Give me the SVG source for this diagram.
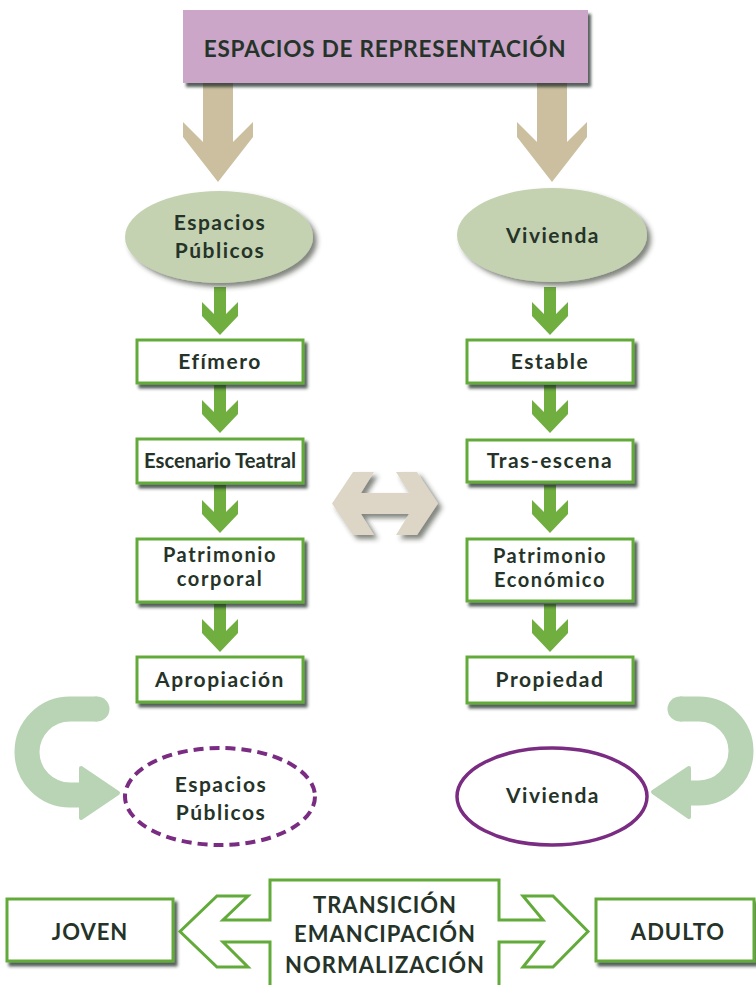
<svg xmlns="http://www.w3.org/2000/svg" width="756" height="985" viewBox="0 0 756 985">
<style>
.t{font-family:Lato,"Liberation Sans",sans-serif;font-weight:700;fill:#253329;text-anchor:middle}
.lb{font-size:21px;letter-spacing:1.5px}
.lb2{font-size:20px;letter-spacing:1.6px}
.cap{font-size:22px;letter-spacing:1px}
.box{fill:#fff;stroke:#62ab3a;stroke-width:3}
.garrow{fill:#6fae3f}
.tarrow{fill:#cbbf9f}
.oval{fill:#c4d2b1}
.curve{fill:none;stroke:#b8d4b4;stroke-width:25}
.chead{fill:#b8d4b4;stroke:#b8d4b4;stroke-width:4;stroke-linejoin:round}
</style>
<defs>
<filter id="sh" x="-10%" y="-10%" width="130%" height="140%">
<feDropShadow dx="3" dy="4" stdDeviation="1.8" flood-color="#1e2a22" flood-opacity="0.75"/>
</filter>
<filter id="sh2" x="-10%" y="-10%" width="130%" height="140%">
<feDropShadow dx="4" dy="4" stdDeviation="2.5" flood-color="#2a3028" flood-opacity="0.6"/>
</filter>
<path id="ga" d="M -6 0 H 6 V 27 L 18 15 V 29 L 0 48 L -18 29 V 15 L -6 27 Z"/>
<path id="ta" d="M -15 80 H 15 V 142 L 35 122 V 137 L 0 182 L -35 137 V 122 L -15 142 Z"/>
</defs>
<rect width="756" height="985" fill="#fff"/>

<g id="connectors">
<use href="#ta" class="tarrow" x="218" y="0"/>
<use href="#ta" class="tarrow" x="552" y="0"/>
<use href="#ga" class="garrow" x="220" y="287"/>
<use href="#ga" class="garrow" x="220" y="385"/>
<use href="#ga" class="garrow" x="220" y="485"/>
<use href="#ga" class="garrow" x="220" y="604"/>
<use href="#ga" class="garrow" x="550" y="287"/>
<use href="#ga" class="garrow" x="550" y="385"/>
<use href="#ga" class="garrow" x="550" y="485"/>
<use href="#ga" class="garrow" x="550" y="604"/>
<polygon id="double-arrow" points="332,503.5 353,472 374,472 361,493 409,493 396,472 417,472 438,503.5 417,535 396,535 409,514 361,514 374,535 353,535" fill="#ddd6c7" filter="url(#sh2)"/>
<g id="curve-left">
<path class="curve" d="M 97 709 H 70 A 43 43 0 0 0 70 795 H 84"/>
<circle cx="97" cy="709" r="12.5" fill="#b8d4b4"/>
<polygon class="chead" points="81,768 118,793 81,818"/>
</g>
<g id="curve-right">
<path class="curve" d="M 680 709 H 699 A 42 42 0 0 1 699 793 H 686"/>
<circle cx="680" cy="709" r="12.5" fill="#b8d4b4"/>
<polygon class="chead" points="689,768 653,792 689,817"/>
</g>
</g>

<g id="title">
<rect x="183" y="10" width="405" height="73" fill="#cba6c9" filter="url(#sh)"/>
<text class="t" x="385" y="57" font-size="22.5" letter-spacing="0.8">ESPACIOS DE REPRESENTACIÓN</text>
</g>

<g id="espacios-publicos">
<ellipse class="oval" cx="219" cy="237" rx="94" ry="46" filter="url(#sh2)"/>
<text class="t lb" x="220" y="230">Espacios</text>
<text class="t lb" x="220" y="258">Públicos</text>
</g>
<g id="vivienda">
<ellipse class="oval" cx="552" cy="235" rx="95" ry="47" filter="url(#sh2)"/>
<text class="t lb" x="553" y="243">Vivienda</text>
</g>

<g id="efimero">
<rect class="box" x="137" y="340" width="166" height="43" filter="url(#sh)"/>
<text class="t lb" x="220" y="369">Efímero</text>
</g>
<g id="escenario-teatral">
<rect class="box" x="137" y="439" width="166" height="44" filter="url(#sh)"/>
<text class="t" x="220" y="468" font-size="21" textLength="152" lengthAdjust="spacingAndGlyphs">Escenario Teatral</text>
</g>
<g id="patrimonio-corporal">
<rect class="box" x="137" y="539" width="166" height="63" filter="url(#sh)"/>
<text class="t lb2" x="220" y="562">Patrimonio</text>
<text class="t lb2" x="220" y="586">corporal</text>
</g>
<g id="apropiacion">
<rect class="box" x="137" y="657" width="166" height="45" filter="url(#sh)"/>
<text class="t lb" x="220" y="687">Apropiación</text>
</g>

<g id="estable">
<rect class="box" x="467" y="340" width="166" height="43" filter="url(#sh)"/>
<text class="t lb" x="550" y="369">Estable</text>
</g>
<g id="tras-escena">
<rect class="box" x="467" y="440" width="166" height="42" filter="url(#sh)"/>
<text class="t lb" x="550" y="468">Tras-escena</text>
</g>
<g id="patrimonio-economico">
<rect class="box" x="467" y="539" width="166" height="62" filter="url(#sh)"/>
<text class="t lb2" x="550" y="563">Patrimonio</text>
<text class="t lb2" x="550" y="587">Económico</text>
</g>
<g id="propiedad">
<rect class="box" x="467" y="657" width="166" height="46" filter="url(#sh)"/>
<text class="t lb" x="550" y="687">Propiedad</text>
</g>

<g id="espacios-publicos-2">
<ellipse cx="220" cy="796.5" rx="95" ry="48.5" fill="#fff" stroke="#7a2b82" stroke-width="4" stroke-dasharray="10 6"/>
<text class="t lb" x="221" y="792">Espacios</text>
<text class="t lb" x="221" y="820">Públicos</text>
</g>
<g id="vivienda-2">
<ellipse cx="552" cy="796.5" rx="95" ry="48.5" fill="#fff" stroke="#7a2b82" stroke-width="3.5"/>
<text class="t lb" x="553" y="803">Vivienda</text>
</g>

<g id="joven">
<rect class="box" x="7" y="899" width="166" height="62" filter="url(#sh)"/>
<text class="t cap" x="90" y="940">JOVEN</text>
</g>
<g id="transicion">
<path d="M 270 990 V 942 H 223 L 248 967 H 217 L 180 931.5 L 217 896 H 248 L 223 920 H 270 V 880 H 499 V 920 H 543 L 523 896 H 553 L 588 931.5 L 553 967 H 523 L 543 942 H 499 V 990" fill="#fff" stroke="#62ab3a" stroke-width="3"/>
<text class="t cap" x="385" y="913">TRANSICIÓN</text>
<text class="t cap" x="385" y="942">EMANCIPACIÓN</text>
<text class="t cap" x="385" y="973">NORMALIZACIÓN</text>
</g>
<g id="adulto">
<rect class="box" x="596" y="899" width="158" height="62" filter="url(#sh)"/>
<text class="t cap" x="678" y="940">ADULTO</text>
</g>
</svg>
